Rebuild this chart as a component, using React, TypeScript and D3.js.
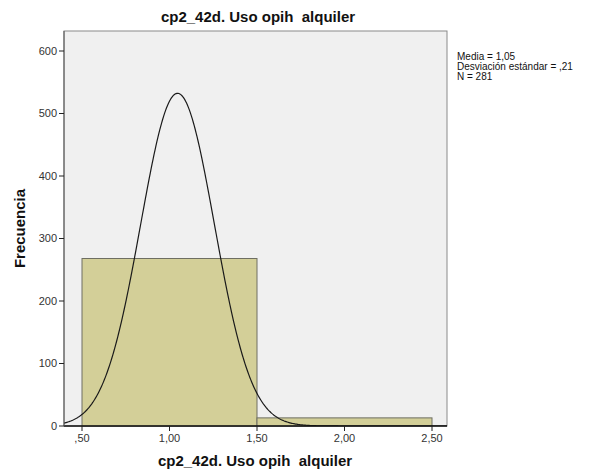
import React from "react";
import * as d3 from "d3";

const binEdges = [0.5, 1.5, 2.5];
const binCounts = [268, 13];
const xTicks = [0.5, 1.0, 1.5, 2.0, 2.5];
const yTicks = [0, 100, 200, 300, 400, 500, 600];
const stats = { mean: 1.046, sd: 0.2106, n: 281 };
const legendLines = ["Media = 1,05", "Desviación estándar = ,21", "N = 281"];
const title = "cp2_42d. Uso opih  alquiler";
const xLabel = "cp2_42d. Uso opih  alquiler";
const yLabel = "Frecuencia";

const W = 601, H = 474;
const frame = { left: 64, right: 447, top: 31, bottom: 426 };

export default function App() {
  const x = d3.scaleLinear().domain([0.5, 2.5]).range([82, 432]);
  const y = d3.scaleLinear().domain([0, 600]).range([426, 51]);
  const fmtX = (v: number) => {
    const s = v.toFixed(2).replace(".", ",");
    return s.startsWith("0") ? s.slice(1) : s;
  };
  const binW = binEdges[1] - binEdges[0];
  const xmin = x.invert(frame.left), xmax = x.invert(frame.right);
  const pts = d3.range(0, 401).map((i) => {
    const xv = xmin + ((xmax - xmin) * i) / 400;
    const z = (xv - stats.mean) / stats.sd;
    const yv = (stats.n * binW) / (stats.sd * Math.sqrt(2 * Math.PI)) * Math.exp(-0.5 * z * z);
    return [xv, yv] as [number, number];
  });
  const line = d3.line<[number, number]>().x((d) => x(d[0])).y((d) => y(d[1])).curve(d3.curveLinear);
  const font = "'Liberation Sans', Arial, sans-serif";

  return (
    <svg width={W} height={H} style={{ position: "absolute", left: 0, top: 0, background: "#fff" }} fontFamily={font}>
      <rect x={frame.left} y={frame.top} width={frame.right - frame.left} height={frame.bottom - frame.top} fill="#f0f0f0" stroke="#8a8a8a" strokeWidth={1} />
      <defs>
        <clipPath id="clip">
          <rect x={frame.left} y={frame.top} width={frame.right - frame.left} height={frame.bottom - frame.top} />
        </clipPath>
      </defs>
      {binCounts.map((c, i) => (
        <rect key={i} x={x(binEdges[i])} y={y(c)} width={x(binEdges[i + 1]) - x(binEdges[i])} height={y(0) - y(c)} fill="#d3cf98" stroke="#6e6e62" strokeWidth={1} />
      ))}
      <path d={line(pts) || ""} fill="none" stroke="#1a1a1a" strokeWidth={1.2} clipPath="url(#clip)" />
      <line x1={frame.left} x2={frame.right} y1={frame.bottom} y2={frame.bottom} stroke="#111" strokeWidth={1.5} />
      <line x1={frame.left} x2={frame.left} y1={frame.top} y2={frame.bottom} stroke="#555" strokeWidth={1} />
      {yTicks.map((t) => (
        <g key={t}>
          <line x1={frame.left - 5} x2={frame.left} y1={y(t)} y2={y(t)} stroke="#222" />
          <text x={frame.left - 7} y={y(t)} dy="0.35em" textAnchor="end" fontSize={11} fill="#333">{t}</text>
        </g>
      ))}
      {xTicks.map((t) => (
        <g key={t}>
          <line x1={x(t)} x2={x(t)} y1={frame.bottom} y2={frame.bottom + 5} stroke="#222" />
          <text x={x(t)} y={frame.bottom + 16} textAnchor="middle" fontSize={11} fill="#333">{fmtX(t)}</text>
        </g>
      ))}
      <text x={258} y={22} textAnchor="middle" fontSize={15} fontWeight="bold" fill="#111" style={{ whiteSpace: "pre" }}>{title}</text>
      <text x={255} y={466} textAnchor="middle" fontSize={15} fontWeight="bold" fill="#111" style={{ whiteSpace: "pre" }}>{xLabel}</text>
      <text transform={`translate(25,${(frame.top + frame.bottom) / 2}) rotate(-90)`} textAnchor="middle" fontSize={15} fontWeight="bold" fill="#111">{yLabel}</text>
      {legendLines.map((s, i) => (
        <text key={i} x={457} y={60 + i * 10} fontSize={10} fill="#111">{s}</text>
      ))}
    </svg>
  );
}
